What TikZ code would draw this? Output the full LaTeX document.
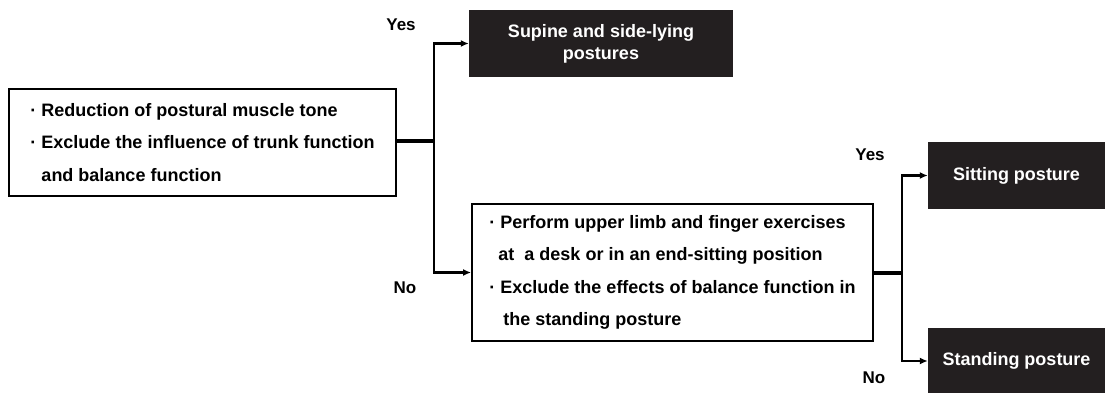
\documentclass[tikz,border=0pt]{standalone}
\usepackage{fontspec}
\setmainfont{Liberation Sans}
\usetikzlibrary{positioning, arrows.meta}

\definecolor{boxdark}{HTML}{231F20}

\tikzset{
	textbox/.style={draw, line width=1.8pt, align=left, inner xsep=0pt, inner ysep=0pt,
		font=\fontsize{18}{32.5}\selectfont\bfseries},
	darkbox/.style={fill=boxdark, draw=none, text=white, align=center, inner sep=0pt,
		minimum height=67pt, font=\fontsize{18}{22}\selectfont\bfseries},
	answer/.style={font=\fontsize{17}{17}\selectfont\bfseries},
	trunk/.style={line width=3.6pt},
	branch/.style={line width=2.4pt, ->}
}

\begin{document}
\begin{tikzpicture}[x=1pt, y=-1pt, >={Latex[length=8pt,width=7pt]}]
	\useasboundingbox (0,0) rectangle (1109,393);

	\node[textbox, minimum width=387pt, minimum height=107pt] (reduce) at (202.5,142.5)
		{· Reduction of postural muscle tone\\
		 · Exclude the influence of trunk function\\
		 \hspace{11pt}and balance function};
	\node[darkbox, minimum width=264pt] (supine) at (601,43.5) {Supine and side-lying\\postures};
	\node[textbox, minimum width=401pt, minimum height=137pt] (desk) at (672.5,272.5)
		{· Perform upper limb and finger exercises\\
		 \hspace{9pt}at~ a desk or in an end-sitting position\\
		 · Exclude the effects of balance function in\\
		 \hspace{14pt}the standing posture};
	\node[darkbox, minimum width=177pt] (sit) at (1016.5,175.5) {Sitting posture};
	\node[darkbox, minimum width=177pt] (stand) at (1016.5,361) {Standing posture};

	\node[answer] (yes1) at (401,25) {Yes};
	\node[answer] (no1) at (405,288) {No};
	\node[answer] (yes2) at (870,155) {Yes};
	\node[answer] (no2) at (874,378) {No};

	\coordinate (fork1) at (434,141);
	\coordinate (fork2) at (902,273);

	% first decision
	\draw[trunk] (reduce.east |- fork1) -- (fork1);
	\draw[branch] (fork1) |- (supine.west);
	\draw[branch] (fork1) |- (desk.west);

	% second decision
	\draw[trunk] (desk.east |- fork2) -- (fork2);
	\draw[branch] (fork2) |- (sit.west);
	\draw[branch] (fork2) |- (stand.west);
\end{tikzpicture}
\end{document}
